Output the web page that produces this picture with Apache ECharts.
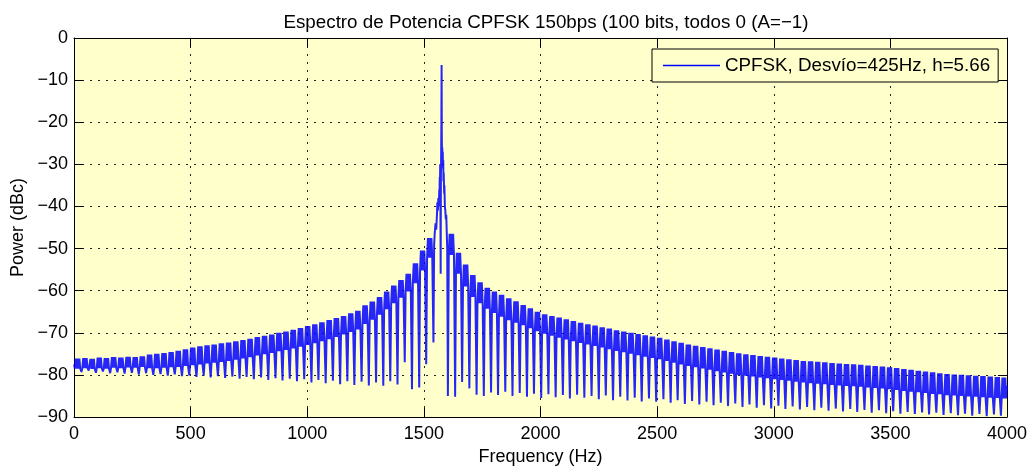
<!DOCTYPE html>
<html>
<head>
<meta charset="utf-8">
<title>Espectro de Potencia CPFSK</title>
<script src="https://cdn.jsdelivr.net/npm/echarts@6/dist/echarts.min.js"></script>
<style>
  html, body { margin: 0; padding: 0; background: #fff; }
  #chart { width: 1032px; height: 468px; }
</style>
</head>
<body>
<div id="chart"></div>
<script>
// nulos del espectro (Hz) - el primero y el ultimo son los bordes del eje
const nullHz = [
  0, 32, 63, 94, 124, 155, 186, 217, 248, 278,
  309, 340, 371, 402, 432, 463, 494, 525, 556, 586,
  617, 648, 679, 710, 740, 771, 802, 833, 864, 894,
  925, 956, 987, 1018, 1048, 1079, 1110, 1141, 1172, 1202,
  1233, 1264, 1295, 1326, 1356, 1387, 1418, 1449, 1480, 1510,
  1541, 1572, 1603, 1634, 1664, 1695, 1726, 1757, 1788, 1818,
  1849, 1880, 1911, 1942, 1972, 2003, 2034, 2065, 2096, 2126,
  2157, 2188, 2219, 2250, 2280, 2311, 2342, 2373, 2404, 2434,
  2465, 2496, 2527, 2558, 2588, 2619, 2650, 2681, 2712, 2742,
  2773, 2804, 2835, 2866, 2896, 2927, 2958, 2989, 3020, 3050,
  3081, 3112, 3143, 3174, 3204, 3235, 3266, 3297, 3328, 3358,
  3389, 3420, 3451, 3482, 3512, 3543, 3574, 3605, 3636, 3666,
  3697, 3728, 3759, 3790, 3820, 3851, 3882, 3913, 3944, 3974,
  4000
]

// profundidad de cada nulo (dBc)
const nullDb = [
  -77.5,
  -79.3, -79.0, -79.5, -79.2, -79.6, -79.4, -79.7, -79.5, -79.9, -79.6,
  -80.0, -79.8, -80.2, -79.9, -80.3, -80.1, -80.5, -80.2, -80.6, -80.3,
  -80.7, -80.4, -80.9, -80.5, -81.0, -80.6, -81.2, -80.8, -81.3, -80.9,
  -81.5, -81.0, -81.8, -81.2, -82.0, -81.4, -82.2, -81.5, -82.4, -81.6,
  -82.5, -81.8, -82.6, -81.5, -82.3, -77.0, -83.4, -83.0, -77.5, -72.3,
  -56.0,
  -85.0, -85.2, -81.7, -83.2, -84.7, -85.0, -84.2, -84.8, -84.0, -85.0,
  -84.3, -85.2, -84.5, -85.5, -84.6, -85.3, -84.8, -85.6, -84.7, -85.4,
  -85.0, -85.8, -84.9, -86.0, -85.2, -86.1, -85.4, -86.3, -85.6, -86.4,
  -85.8, -86.6, -86.0, -86.9, -86.2, -87.0, -86.4, -87.2, -86.6, -87.4,
  -86.8, -87.6, -87.0, -87.8, -87.2, -88.0, -87.3, -88.1, -87.5, -88.2,
  -87.6, -88.4, -87.8, -88.5, -88.0, -88.7, -88.1, -88.8, -88.3, -89.0,
  -88.4, -89.1, -88.6, -89.2, -88.8, -89.3, -88.9, -89.4, -89.0, -89.5,
  -89.1, -89.6, -89.2, -89.7, -89.3, -89.8, -89.4, -89.7, -82.5
]

// parte alta de cada lobulo (dBc), null = lobulos de la portadora
const lobeTop = [
  -76.1, -76.0, -76.2, -75.9, -76.0, -75.8, -75.9, -75.7, -75.8, -75.6,
  -75.2, -75.0, -74.8, -74.6, -74.3, -73.9, -73.5, -73.2, -73.0, -72.8,
  -72.5, -72.3, -72.0, -71.7, -71.4, -71.0, -70.7, -70.4, -70.0, -69.7,
  -69.3, -68.9, -68.4, -68.0, -67.5, -67.0, -66.5, -66.0, -65.4, -64.8,
  -63.5, -62.6, -61.5, -60.2, -58.8, -57.5, -56.0, -53.5, -50.5, -47.5,
  null, null,
  -46.5, -51.0, -53.8, -56.3, -58.0, -59.3, -60.2, -61.0, -61.8, -62.5,
  -63.4, -64.2, -65.0, -65.6, -66.0, -66.4, -66.8, -67.2, -67.6, -68.0,
  -68.3, -68.7, -69.0, -69.4, -69.7, -70.0, -70.3, -70.6, -70.9, -71.2,
  -71.6, -72.0, -72.4, -72.8, -73.1, -73.4, -73.7, -74.0, -74.3, -74.6,
  -74.9, -75.1, -75.3, -75.5, -75.7, -75.9, -76.1, -76.3, -76.5, -76.7,
  -76.8, -76.9, -77.0, -77.2, -77.3, -77.4, -77.5, -77.6, -77.8, -77.9,
  -78.0, -78.2, -78.4, -78.6, -78.8, -79.0, -79.2, -79.4, -79.6, -79.8,
  -79.9, -80.0, -80.1, -80.2, -80.3, -80.4, -80.5, -80.6
]

// parte baja de la banda densa de cada lobulo (dBc)
const lobeLow = [
  -78.5, -78.4, -78.6, -78.4, -78.5, -78.3, -78.4, -78.2, -78.3, -78.1,
  -78.4, -78.4, -78.3, -78.2, -78.1, -77.9, -77.7, -77.5, -77.3, -77.1,
  -76.9, -76.7, -76.4, -76.1, -75.8, -75.4, -75.1, -74.8, -74.4, -74.1,
  -73.7, -73.3, -72.9, -72.5, -72.0, -71.5, -71.0, -70.4, -69.8, -69.2,
  -67.9, -66.9, -65.7, -64.4, -63.0, -61.7, -60.2, -58.2, -55.2, -52.2,
  null, null,
  -51.5, -56.0, -59.0, -61.5, -63.0, -64.3, -65.3, -66.2, -67.0, -67.6,
  -68.2, -68.9, -69.6, -70.2, -70.7, -71.2, -71.6, -72.0, -72.4, -72.8,
  -73.1, -73.5, -73.9, -74.3, -74.6, -75.0, -75.3, -75.7, -76.0, -76.3,
  -76.7, -77.1, -77.5, -77.9, -78.2, -78.5, -78.8, -79.1, -79.4, -79.7,
  -80.0, -80.2, -80.4, -80.6, -80.8, -81.0, -81.2, -81.4, -81.6, -81.8,
  -82.0, -82.1, -82.2, -82.4, -82.5, -82.6, -82.7, -82.8, -83.0, -83.1,
  -83.2, -83.4, -83.6, -83.8, -84.0, -84.1, -84.3, -84.5, -84.6, -84.8,
  -84.9, -85.0, -85.1, -85.2, -85.3, -85.4, -85.5, -85.6
]

// zona de la portadora (1541 - 1603 Hz)
const carrierHz = [1544, 1547, 1550, 1553, 1556, 1558, 1560, 1562, 1564, 1566, 1567, 1568, 1569, 1570, 1571,
  1573, 1574, 1575, 1576, 1577, 1578, 1579, 1580, 1581, 1582, 1583, 1584, 1585, 1587, 1588, 1590,
  1592, 1594, 1596, 1598, 1600]
const carrierDb = [-49, -46, -44, -45.5, -42, -39, -41, -38, -40, -36, -38, -33, -35, -30, -40,
  -33, -28, -20, -6.4, -24, -28.5, -26, -30, -27, -31, -29, -34, -32, -37, -35, -40,
  -41, -43, -42, -46, -50]

const xTicks = { min: 0, max: 4000, step: 500 }
const yTicks = { min: -90, max: 0, step: 10 }

// forma de dibujo dentro de cada lobulo: [fraccion del lobulo, 1 = alto / 0 = bajo]
const lobeShape = [[0.12, 0], [0.24, 1], [0.36, 0], [0.48, 1], [0.6, 0], [0.72, 1], [0.84, 0]]

const lineData = []
for (let i = 0; i < nullHz.length; i++) {
  lineData.push([nullHz[i], nullDb[i]])
  if (i < lobeTop.length && lobeTop[i] !== null) {
    const a = nullHz[i]
    const g = nullHz[i + 1] - a
    lobeShape.forEach(([f, up]) => {
      lineData.push([a + f * g, up ? lobeTop[i] : lobeLow[i]])
    })
  }
}
carrierHz.forEach((hz, j) => lineData.push([hz, carrierDb[j]]))
lineData.sort((p, q) => p[0] - q[0])

const font = 'Liberation Sans, Arial, Helvetica, sans-serif'
const seriesName = 'CPFSK, Desvío=425Hz, h=5.66'
const gridLine = { show: true, lineStyle: { color: '#222', width: 1, type: [2, 6] } }
const frame = { show: true, onZero: false, lineStyle: { color: '#000', width: 1 } }
const innerTick = { show: true, inside: true, length: 9, lineStyle: { color: '#000' } }
const minus = (v) => (v < 0 ? '\u2212' + -v : String(v))

const chart = echarts.init(document.getElementById('chart'))
chart.setOption({
  animation: false,
  backgroundColor: '#fff',
  textStyle: { fontFamily: font },
  title: {
    text: 'Espectro de Potencia CPFSK 150bps (100 bits, todos 0 (A=\u22121)',
    left: 541,
    textAlign: 'center',
    top: 8,
    textStyle: { fontFamily: font, fontSize: 18.8, fontWeight: 'normal', color: '#000' },
  },
  legend: {
    left: 652,
    top: 49,
    padding: [7, 8, 7, 11],
    itemWidth: 57,
    itemHeight: 1.5,
    icon: 'rect',
    itemStyle: { color: '#0000ff' },
    backgroundColor: '#ffffcc',
    borderColor: '#000',
    borderWidth: 1,
    borderRadius: 0,
    textStyle: { fontFamily: font, fontSize: 18.8, color: '#000' },
    data: [seriesName],
  },
  grid: {
    left: 74,
    right: 25,
    top: 38,
    bottom: 51,
    outerBoundsMode: 'none',
    show: true,
    backgroundColor: '#ffffcc',
    borderWidth: 0,
  },
  xAxis: [
    {
      type: 'value',
      min: xTicks.min,
      max: xTicks.max,
      interval: xTicks.step,
      position: 'bottom',
      axisLine: frame,
      axisTick: innerTick,
      axisLabel: { fontFamily: font, fontSize: 18, color: '#000', margin: 8, formatter: (v) => String(v) },
      splitLine: gridLine,
      name: 'Frequency (Hz)',
      nameLocation: 'middle',
      nameGap: 31,
      nameTextStyle: { fontFamily: font, fontSize: 18, color: '#000', verticalAlign: 'top' },
    },
    {
      type: 'value',
      min: xTicks.min,
      max: xTicks.max,
      interval: xTicks.step,
      position: 'top',
      axisLine: frame,
      axisTick: innerTick,
      axisLabel: { show: false },
      splitLine: { show: false },
    },
  ],
  yAxis: [
    {
      type: 'value',
      min: yTicks.min,
      max: yTicks.max,
      interval: yTicks.step,
      position: 'left',
      axisLine: frame,
      axisTick: innerTick,
      axisLabel: { fontFamily: font, fontSize: 18, color: '#000', margin: 6, formatter: minus },
      splitLine: gridLine,
      name: 'Power (dBc)',
      nameLocation: 'middle',
      nameGap: 46,
      nameTextStyle: { fontFamily: font, fontSize: 18, color: '#000' },
    },
    {
      type: 'value',
      min: yTicks.min,
      max: yTicks.max,
      interval: yTicks.step,
      position: 'right',
      axisLine: frame,
      axisTick: innerTick,
      axisLabel: { show: false },
      splitLine: { show: false },
    },
  ],
  series: [
    {
      name: seriesName,
      type: 'line',
      xAxisIndex: 0,
      yAxisIndex: 0,
      data: lineData,
      symbol: 'none',
      sampling: false,
      lineStyle: { color: '#0000ff', width: 2, opacity: 0.85 },
      itemStyle: { color: '#0000ff' },
      emphasis: { disabled: true },
    },
  ],
})
</script>
</body>
</html>
